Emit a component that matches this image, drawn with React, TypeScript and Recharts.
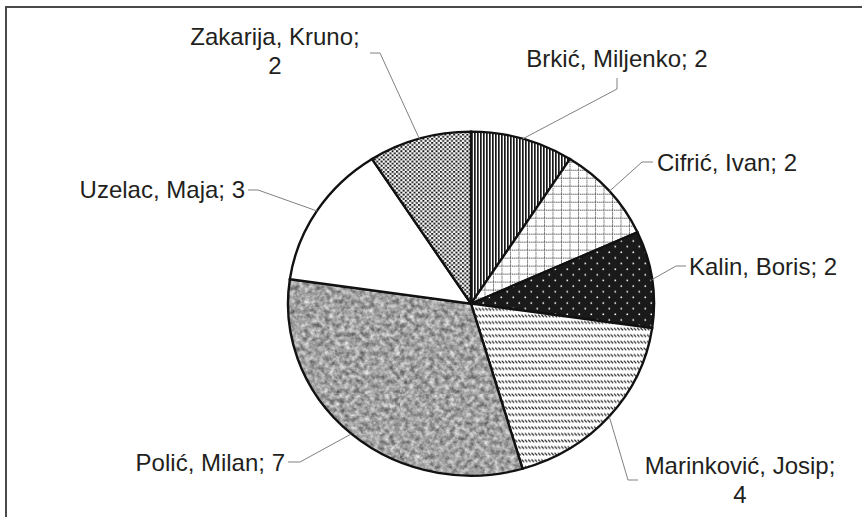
import React from 'react';
import { PieChart, Pie, Cell } from 'recharts';

const names = ['Brkić, Miljenko', 'Cifrić, Ivan', 'Kalin, Boris', 'Marinković, Josip', 'Polić, Milan', 'Uzelac, Maja', 'Zakarija, Kruno'];
const counts = [2, 2, 2, 4, 7, 3, 2];
const fills = ['url(#pVlines)', 'url(#pGrid)', 'url(#pBlackDots)', 'url(#pDashes)', 'url(#pNoise)', '#ffffff', 'url(#pDots)'];

const data = names.map((name, i) => ({ name, value: counts[i] }));

const W = 862;
const H = 517;
const CX = 466;
const CY = 299;
const R = 183;
const SQUASH = 0.94; // the pie in the picture is a little flatter than a circle
const RAD = Math.PI / 180;

// where each label sits and how its leader line bends
const labelLayout = [
  { path: [[617, 89], [617, 78]], x: 617, y: 67, anchor: 'middle', wrap: false },
  { path: [[642, 162], [653, 162]], x: 657, y: 171, anchor: 'start', wrap: false },
  { path: [[676, 266], [686, 266]], x: 689, y: 275, anchor: 'start', wrap: false },
  { path: [[628, 480], [638, 480]], x: 740, y: 474, anchor: 'middle', wrap: true },
  { path: [[300, 462], [288, 462]], x: 285, y: 471, anchor: 'end', wrap: false },
  { path: [[258, 190], [248, 190]], x: 245, y: 198, anchor: 'end', wrap: false },
  { path: [[380, 53], [370, 53]], x: 275, y: 45, anchor: 'middle', wrap: true },
];

const font = '"Liberation Sans", Arial, sans-serif';

const renderLabel = (props: any) => {
  const { cx, cy, midAngle, outerRadius, index } = props;
  const sx = cx + outerRadius * Math.cos(-midAngle * RAD);
  const sy = cy + outerRadius * SQUASH * Math.sin(-midAngle * RAD);
  const l = labelLayout[index];
  const pts = [[sx, sy], ...l.path].map((p) => p.join(',')).join(' ');
  const text = l.wrap ? [`${names[index]};`, `${counts[index]}`] : [`${names[index]}; ${counts[index]}`];
  return (
    <g key={`lbl-${index}`}>
      <polyline points={pts} fill="none" stroke="#808080" strokeWidth={1} />
      {text.map((t, k) => (
        <text
          key={k}
          x={l.x}
          y={l.y + k * 29}
          textAnchor={l.anchor}
          fontFamily={font}
          fontSize={24}
          fill="#231f20"
        >
          {t}
        </text>
      ))}
    </g>
  );
};

const Patterns = () => (
  <svg width={0} height={0} style={{ position: 'absolute' }}>
    <defs>
      <pattern id="pVlines" width={3} height={3} patternUnits="userSpaceOnUse">
        <rect width={3} height={3} fill="#fff" />
        <rect width={1.7} height={3} fill="#1a1a1a" />
      </pattern>
      <pattern id="pGrid" width={8.5} height={8.5} patternUnits="userSpaceOnUse">
        <rect width={8.5} height={8.5} fill="#fff" />
        <line x1={0} y1={0.5} x2={8.5} y2={0.5} stroke="#222" strokeWidth={1} strokeDasharray="1 1" />
        <line x1={0.5} y1={0} x2={0.5} y2={8.5} stroke="#222" strokeWidth={1} strokeDasharray="1 1" />
      </pattern>
      <pattern id="pBlackDots" width={12} height={12} patternUnits="userSpaceOnUse">
        <rect width={12} height={12} fill="#1a1a1a" />
        <rect x={2.5} y={2.5} width={1.6} height={1.6} fill="#fff" />
        <rect x={8.5} y={8.5} width={1.6} height={1.6} fill="#fff" />
      </pattern>
      <pattern id="pDashes" width={3.3} height={7} patternUnits="userSpaceOnUse">
        <rect width={3.3} height={7} fill="#fff" />
        <line x1={0.2} y1={0.6} x2={2.6} y2={3.4} stroke="#1a1a1a" strokeWidth={1.2} />
      </pattern>
      <filter id="fNoise" x="0" y="0" width="100%" height="100%" colorInterpolationFilters="sRGB">
        <feTurbulence type="fractalNoise" baseFrequency="0.2" numOctaves={3} seed={7} />
        <feColorMatrix
          type="matrix"
          values="0.75 0 0 0 0.26  0.75 0 0 0 0.26  0.75 0 0 0 0.26  0 0 0 0 1"
        />
      </filter>
      <pattern id="pNoise" width={400} height={400} patternUnits="userSpaceOnUse">
        <rect width={400} height={400} filter="url(#fNoise)" />
      </pattern>
      <pattern id="pDots" width={4.4} height={4.4} patternUnits="userSpaceOnUse">
        <rect width={4.4} height={4.4} fill="#fff" />
        <rect x={0} y={0} width={2} height={2} fill="#1a1a1a" />
        <rect x={2.2} y={2.2} width={2} height={2} fill="#1a1a1a" />
      </pattern>
    </defs>
  </svg>
);

export default function App() {
  return (
    <div style={{ position: 'absolute', left: 0, top: 0, width: W, height: H, overflow: 'hidden', background: '#fff' }}>
      <Patterns />
      <div
        style={{
          position: 'absolute',
          left: 5,
          top: 6,
          width: W + 40,
          height: H + 40,
          borderTop: '2px solid #4a4a4a',
          borderLeft: '2px solid #4a4a4a',
        }}
      />
      <div style={{ position: 'absolute', left: 0, top: 0, transform: `scaleY(${SQUASH})`, transformOrigin: `0 ${CY}px` }}>
        <PieChart width={W} height={H}>
          <Pie
            data={data}
            dataKey="value"
            nameKey="name"
            cx={CX}
            cy={CY}
            outerRadius={R}
            startAngle={90}
            endAngle={-270}
            stroke="#111"
            strokeWidth={2.4}
            labelLine={false}
            isAnimationActive={false}
          >
            {data.map((d, i) => (
              <Cell key={d.name} fill={fills[i]} />
            ))}
          </Pie>
        </PieChart>
      </div>
      <div style={{ position: 'absolute', left: 0, top: 0 }}>
        <PieChart width={W} height={H}>
          <Pie
            data={data}
            dataKey="value"
            nameKey="name"
            cx={CX}
            cy={CY}
            outerRadius={R}
            startAngle={90}
            endAngle={-270}
            fill="none"
            stroke="none"
            label={renderLabel}
            labelLine={false}
            isAnimationActive={false}
          />
        </PieChart>
      </div>
    </div>
  );
}
